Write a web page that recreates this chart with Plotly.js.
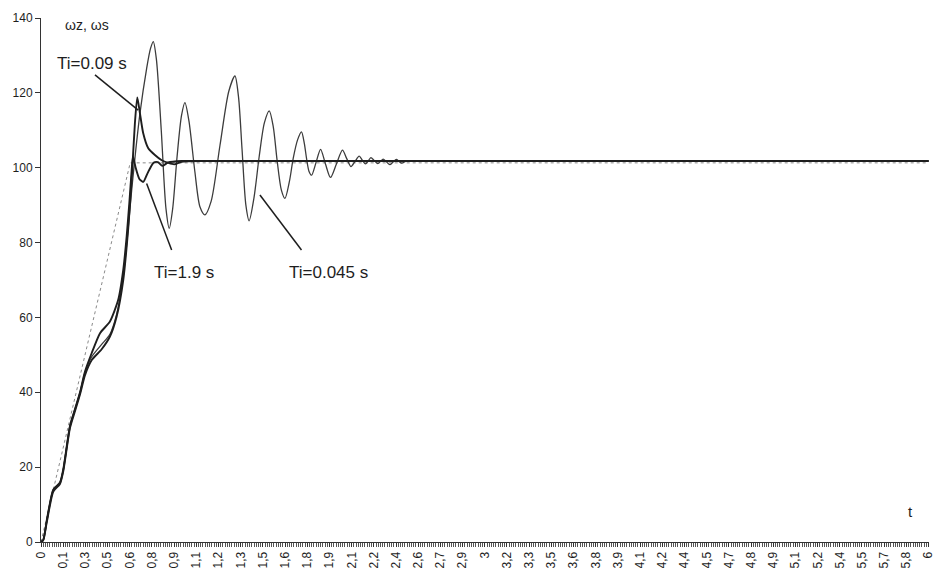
<!DOCTYPE html>
<html>
<head>
<meta charset="utf-8">
<script src="https://cdn.plot.ly/plotly-3.0.1.min.js"></script>
<style>
  html, body { margin: 0; padding: 0; background: #ffffff; }
  #chart { width: 934px; height: 568px; }
</style>
</head>
<body>
<div id="chart"></div>
<script>
// Speed setpoint ramp (ωz) and motor speed responses (ωs) for three integral times

// Setpoint: linear ramp, then constant
const tSet = [0, 0.603, 6];
const wSet = [0, 101.3, 101.3];

// Ti = 1.9 s
const t19 = [0, 0.015, 0.04, 0.083, 0.128, 0.151, 0.196, 0.23, 0.264, 0.297, 0.343, 0.399, 0.466, 0.522, 0.556, 0.579, 0.597, 0.613, 0.622, 0.64, 0.665, 0.691, 0.72, 0.76, 0.79, 0.82, 0.86, 0.95, 1.2, 6];
const w19 = [0, 0.5, 6, 14, 15.8, 19.5, 31, 35.5, 40, 45.5, 50.5, 55.8, 58.9, 64.7, 72.7, 81.6, 90.5, 99.4, 103, 100, 97, 96.2, 98.5, 101.3, 101.5, 100.5, 101.4, 101.8, 101.8, 101.8];

// Ti = 0.09 s
const t009 = [0, 0.015, 0.04, 0.083, 0.128, 0.151, 0.196, 0.23, 0.264, 0.297, 0.343, 0.41, 0.466, 0.511, 0.556, 0.59, 0.613, 0.635, 0.651, 0.669, 0.691, 0.725, 0.77, 0.816, 0.86, 0.9, 0.95, 1.1, 6];
const w009 = [0, 0.5, 5.5, 13.5, 15.5, 19, 30.5, 35, 39.5, 44.5, 48.6, 51.5, 54.9, 60.2, 70, 84, 97, 112, 118.8, 114.5, 109.2, 105.2, 103.4, 102, 101.3, 100.9, 101.6, 101.8, 101.8];

// Ti = 0.045 s
const t0045 = [0, 0.015, 0.04, 0.083, 0.128, 0.151, 0.196, 0.23, 0.264, 0.297, 0.343, 0.41, 0.466, 0.511, 0.556, 0.59, 0.613, 0.669, 0.714, 0.74, 0.759, 0.78, 0.813, 0.845, 0.867, 0.89, 0.92, 0.95, 0.973, 1.0, 1.04, 1.075, 1.108, 1.15, 1.21, 1.27, 1.311, 1.335, 1.359, 1.385, 1.407, 1.44, 1.475, 1.51, 1.543, 1.57, 1.596, 1.625, 1.649, 1.68, 1.705, 1.735, 1.761, 1.78, 1.795, 1.812, 1.829, 1.86, 1.89, 1.923, 1.957, 1.997, 2.038, 2.066, 2.095, 2.123, 2.151, 2.172, 2.194, 2.212, 2.23, 2.253, 2.277, 2.295, 2.313, 2.335, 2.358, 2.38, 2.402, 2.42, 2.437, 2.465, 2.493, 2.6, 6];
const w0045 = [0, 0.5, 5.8, 14, 16, 19.5, 31.2, 35.6, 40, 45.3, 49.5, 52.8, 55.5, 60.8, 71, 84, 94, 114.5, 126.5, 131.8, 133.7, 129, 110, 89, 83.8, 89, 103, 114, 117.4, 112.5, 99, 89.5, 87.4, 91, 106, 120.5, 124.5, 119, 105, 90, 85.8, 92, 103, 112, 115.2, 111, 102, 94, 91.8, 96.5, 102.5, 107.5, 109.6, 106.5, 102.5, 99, 98, 101.5, 104.9, 101, 97.4, 101, 104.7, 102.5, 100.3, 101.7, 103.1, 102, 101, 101.8, 102.7, 101.9, 101.1, 101.7, 102.3, 101.6, 100.8, 101.5, 102.2, 101.7, 101.2, 101.7, 101.9, 101.8, 101.8];

// Category-style time labels along the x axis
const tickTimes = [0, 0.15, 0.3, 0.45, 0.6, 0.75, 0.9, 1.05, 1.2, 1.35, 1.5, 1.65, 1.8, 1.95, 2.1, 2.25, 2.4, 2.55, 2.7, 2.85, 3, 3.15, 3.3, 3.45, 3.6, 3.75, 3.9, 4.05, 4.2, 4.35, 4.5, 4.65, 4.8, 4.95, 5.1, 5.25, 5.4, 5.55, 5.7, 5.85, 6];
const tickLabels = ["0", "0,1", "0,3", "0,5", "0,6", "0,8", "0,9", "1,1", "1,2", "1,3", "1,5", "1,6", "1,8", "1,9", "2,1", "2,2", "2,4", "2,6", "2,7", "2,9", "3", "3,2", "3,3", "3,5", "3,6", "3,8", "3,9", "4,1", "4,2", "4,4", "4,5", "4,7", "4,8", "4,9", "5,1", "5,2", "5,4", "5,5", "5,7", "5,8", "6"];

const yTicks = [0, 20, 40, 60, 80, 100, 120, 140];

const font = "Arial, 'Liberation Sans', sans-serif";
const ink = "#1e1e1e";

const traces = [
  { x: tSet, y: wSet, mode: "lines", line: { color: "#8a8a8a", width: 1, dash: "dot" }, hoverinfo: "skip" },
  { x: t0045, y: w0045, mode: "lines", line: { color: "#3c3c3c", width: 1.3, shape: "spline", smoothing: 0.8 } },
  { x: t19, y: w19, mode: "lines", line: { color: ink, width: 1.9, shape: "spline", smoothing: 0.6 } },
  { x: t009, y: w009, mode: "lines", line: { color: ink, width: 1.9, shape: "spline", smoothing: 0.6 } }
];

const pointer = (x0, y0, x1, y1) => ({
  type: "line", xref: "x", yref: "y", x0: x0, y0: y0, x1: x1, y1: y1,
  line: { color: ink, width: 1.5 }
});

const label = (text, x, y, size) => ({
  text: text, x: x, y: y, xref: "x", yref: "y",
  xanchor: "left", yanchor: "middle", showarrow: false,
  font: { family: font, size: size, color: ink }
});

const layout = {
  width: 934,
  height: 568,
  margin: { l: 41, r: 5, t: 18, b: 26 },
  paper_bgcolor: "#ffffff",
  plot_bgcolor: "#ffffff",
  showlegend: false,
  font: { family: font, color: ink },
  xaxis: {
    range: [0, 6.003],
    tickmode: "array",
    tickvals: tickTimes,
    ticktext: tickLabels,
    tickangle: -90,
    ticks: "outside",
    ticklen: 4,
    tickcolor: "#333",
    tickfont: { family: font, size: 12, color: ink },
    ticklabeloverflow: "allow",
    minor: { tickmode: "linear", tick0: 0, dtick: 0.015, ticks: "outside", ticklen: 4, tickcolor: "#555", showgrid: false },
    showline: true,
    linecolor: "#333",
    linewidth: 1,
    showgrid: false,
    zeroline: false,
    automargin: false
  },
  yaxis: {
    range: [0, 140],
    tickmode: "array",
    tickvals: yTicks,
    ticks: "outside",
    ticklen: 5,
    tickcolor: "#333",
    tickfont: { family: font, size: 12, color: ink },
    showline: true,
    linecolor: "#333",
    linewidth: 1,
    showgrid: false,
    zeroline: false,
    automargin: false
  },
  shapes: [
    pointer(0.365, 124.8, 0.657, 115.4),
    pointer(0.883, 78, 0.714, 95.8),
    pointer(1.761, 78, 1.48, 92.7)
  ],
  annotations: [
    label("ωz, ωs", 0.149, 138.1, 14),
    label("Ti=0.09 s", 0.095, 127.8, 17),
    label("Ti=1.9 s", 0.75, 71.9, 17),
    label("Ti=0.045 s", 1.662, 71.9, 17),
    label("t", 5.85, 8.1, 15)
  ]
};

Plotly.newPlot("chart", traces, layout, { staticPlot: true, displayModeBar: false });
</script>
</body>
</html>
